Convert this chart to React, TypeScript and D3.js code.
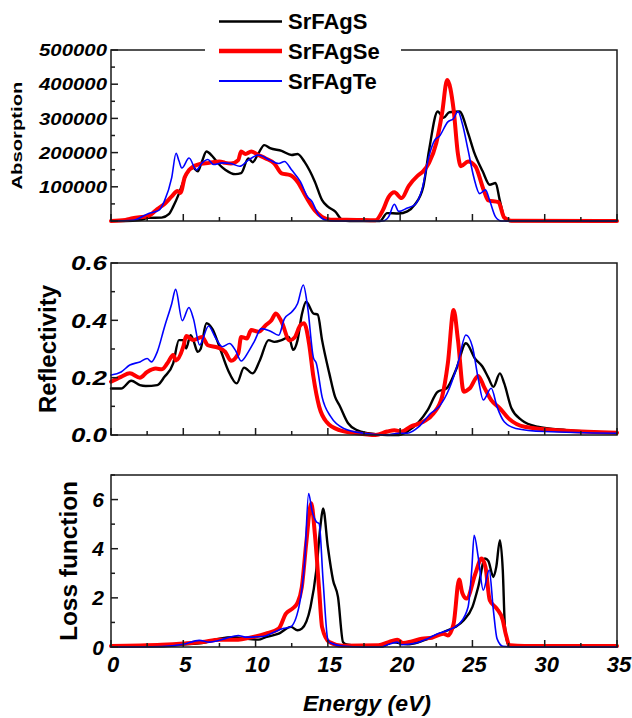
import React from "react";
import * as d3 from "d3";

type Pt = [number, number];

// ---------- data ----------
const seriesNames = ["SrFAgS", "SrFAgSe", "SrFAgTe"];
const energyTicks = [0, 5, 10, 15, 20, 25, 30, 35];
const absTicks = [100000, 200000, 300000, 400000, 500000];
const refTicks = [0, 0.2, 0.4, 0.6];
const lossTicks = [0, 2, 4, 6];

const absS: Pt[] = [
  [0, 0], [1, 0], [2, 3000], [2.6, 9000], [3.5, 10000], [4.0, 20000], [4.3, 42000], [4.7, 80000],
  [5.0, 115000], [5.4, 149000], [5.7, 155000], [6.0, 145000], [6.3, 175000], [6.6, 203000],
  [7.0, 190000], [7.4, 169000], [7.9, 150000], [8.6, 137000], [9.0, 140000], [9.5, 183000],
  [9.8, 172000], [10.2, 198000], [10.6, 222000], [11.0, 213000], [11.8, 205000], [12.5, 193000],
  [12.9, 196000], [13.4, 172000], [14.1, 115000], [14.6, 61000], [15.0, 42000], [15.5, 28000],
  [16.0, 3000], [16.5, 0], [18.6, 0], [19.1, 23000], [19.9, 22000], [20.5, 28000], [21.0, 47000],
  [21.6, 100000], [22.0, 207000], [22.6, 320000], [23.0, 302000], [23.4, 318000], [24.1, 320000],
  [24.7, 257000], [25.1, 203000], [25.7, 146000], [26.2, 106000], [26.6, 111000], [26.9, 59000],
  [27.3, 2000], [27.6, 0], [35, 0],
];
const absSe: Pt[] = [
  [0, 0], [1, 3000], [1.5, 8000], [2.6, 15000], [3.2, 35000], [3.7, 50000], [4.2, 72000],
  [4.6, 88000], [4.8, 82000], [5.1, 128000], [5.4, 149000], [6.0, 165000], [6.8, 170000],
  [7.5, 174000], [7.9, 170000], [8.3, 168000], [8.8, 178000], [9.0, 203000], [9.3, 196000],
  [9.7, 203000], [10.2, 193000], [10.7, 183000], [11.3, 168000], [11.8, 139000], [12.4, 134000],
  [12.9, 115000], [13.5, 70000], [14.1, 31000], [14.6, 12000], [15.2, 4000], [17, 3000],
  [18.3, 2000], [18.8, 31000], [19.2, 70000], [19.6, 84000], [20.1, 67000], [20.6, 103000],
  [21.2, 132000], [21.6, 146000], [22.0, 170000], [22.5, 228000], [22.9, 315000], [23.25, 412000],
  [23.7, 325000], [24.0, 195000], [24.2, 160000], [24.7, 174000], [25.2, 160000], [25.8, 88000],
  [26.1, 60000], [26.8, 55000], [27.2, 10000], [27.7, 1000], [35, 0],
];
const absTe: Pt[] = [
  [0, 0], [1.5, 2000], [2.6, 22000], [3.3, 31000], [3.7, 59000], [4.2, 127000], [4.5, 198000],
  [4.7, 176000], [4.9, 155000], [5.4, 184000], [5.9, 149000], [6.3, 170000], [6.7, 180000],
  [7.1, 165000], [7.7, 170000], [8.3, 168000], [8.9, 160000], [9.5, 178000], [10.2, 193000],
  [11.0, 178000], [11.6, 168000], [12.0, 174000], [12.5, 149000], [13.1, 115000], [13.6, 70000],
  [13.9, 57000], [14.3, 22000], [14.9, 2000], [15.5, 0], [18.8, 0], [19.2, 12000], [19.6, 49000],
  [19.9, 28000], [20.5, 38000], [21.0, 47000], [21.5, 90000], [22.0, 190000], [22.4, 237000],
  [22.7, 247000], [23.3, 290000], [23.7, 300000], [24.0, 320000], [24.3, 285000], [24.7, 207000],
  [25.1, 127000], [25.5, 80000], [25.9, 91000], [26.2, 59000], [26.6, 12000], [27.0, 0], [35, 0],
];

const refS: Pt[] = [
  [0, 0.162], [0.7, 0.162], [1.4, 0.189], [2.0, 0.174], [2.4, 0.171], [3.2, 0.174], [3.7, 0.203],
  [4.3, 0.25], [4.7, 0.331], [5.0, 0.331], [5.2, 0.302], [5.5, 0.348], [5.7, 0.33], [6.0, 0.29],
  [6.2, 0.3], [6.6, 0.39], [7.0, 0.371], [7.5, 0.308], [8.1, 0.226], [8.7, 0.18], [9.2, 0.235],
  [9.8, 0.215], [10.3, 0.261], [10.9, 0.331], [11.3, 0.325], [11.8, 0.331], [12.3, 0.342],
  [12.6, 0.297], [12.9, 0.33], [13.2, 0.42], [13.5, 0.465], [14.0, 0.424], [14.3, 0.42],
  [14.6, 0.331], [15.1, 0.215], [15.5, 0.133], [15.8, 0.104], [16.4, 0.041], [17.0, 0.017],
  [17.8, 0.006], [19.1, 0], [19.9, 0], [20.5, 0.012], [21.3, 0.046], [21.9, 0.087], [22.6, 0.151],
  [23.2, 0.162], [23.9, 0.232], [24.55, 0.32], [25.2, 0.265], [25.7, 0.238], [26.1, 0.2],
  [26.45, 0.168], [26.9, 0.215], [27.2, 0.18], [27.7, 0.093], [28.4, 0.052], [29.5, 0.029],
  [31.5, 0.017], [35, 0.008],
];
const refSe: Pt[] = [
  [0, 0.186], [0.7, 0.203], [1.3, 0.215], [2.0, 0.2], [2.5, 0.22], [3.1, 0.232], [3.5, 0.229],
  [3.9, 0.25], [4.3, 0.279], [4.5, 0.26], [5.0, 0.308], [5.2, 0.345], [5.7, 0.331], [6.3, 0.342],
  [6.7, 0.313], [7.4, 0.305], [7.9, 0.29], [8.3, 0.259], [8.8, 0.284], [9.0, 0.342], [9.4, 0.337],
  [9.7, 0.366], [10.2, 0.36], [10.7, 0.383], [11.1, 0.4], [11.4, 0.424], [11.8, 0.395],
  [12.35, 0.33], [12.7, 0.34], [13.1, 0.383], [13.35, 0.39], [13.7, 0.319], [14.0, 0.203],
  [14.4, 0.099], [14.9, 0.046], [15.8, 0.017], [17.0, 0.006], [18.3, 0], [19.1, 0.012],
  [19.6, 0.017], [20.1, 0.012], [20.7, 0.029], [21.6, 0.046], [22.3, 0.075], [22.9, 0.133],
  [23.3, 0.25], [23.7, 0.436], [24.0, 0.331], [24.4, 0.151], [24.8, 0.162], [25.4, 0.206],
  [25.8, 0.168], [26.3, 0.122], [26.9, 0.093], [27.5, 0.058], [28.6, 0.029], [31.5, 0.015],
  [35, 0.008],
];
const refTe: Pt[] = [
  [0, 0.209], [0.7, 0.22], [1.3, 0.244], [2.0, 0.255], [2.5, 0.267], [2.8, 0.255], [3.2, 0.29],
  [3.7, 0.377], [4.2, 0.458], [4.47, 0.508], [4.93, 0.399], [5.39, 0.445], [5.7, 0.406],
  [6.13, 0.314], [6.75, 0.38], [7.2, 0.342], [7.7, 0.308], [8.2, 0.319], [8.6, 0.296], [9.0, 0.258],
  [9.5, 0.29], [9.9, 0.325], [10.4, 0.371], [11.0, 0.363], [11.6, 0.348], [12.0, 0.406],
  [12.5, 0.429], [12.9, 0.458], [13.3, 0.523], [13.6, 0.447], [14.0, 0.27], [14.2, 0.25],
  [14.6, 0.133], [15.2, 0.064], [16.1, 0.023], [17.5, 0.006], [19.1, 0], [19.9, 0.006],
  [20.5, 0.006], [21.3, 0.029], [22.1, 0.075], [22.7, 0.099], [23.4, 0.162], [24.0, 0.25],
  [24.55, 0.349], [25.0, 0.308], [25.4, 0.197], [25.75, 0.122], [26.3, 0.163], [26.7, 0.099],
  [27.2, 0.046], [28.0, 0.023], [30.0, 0.012], [35, 0.006],
];

const lossS: Pt[] = [
  [0, 0.03], [3.5, 0.03], [5.0, 0.1], [6.3, 0.16], [7.5, 0.34], [8.5, 0.4], [9.3, 0.34],
  [10.2, 0.3], [10.7, 0.4], [11.6, 0.54], [12.45, 0.82], [12.9, 0.68], [13.2, 0.75], [13.8, 1.63],
  [14.2, 3.12], [14.5, 5.0], [14.67, 5.64], [15.0, 4.07], [15.36, 2.72], [15.7, 2.04], [16.05, 0.2],
  [16.3, 0.1], [17.4, 0.03], [18.8, 0.03], [19.4, 0.2], [19.9, 0.16], [20.5, 0.11], [21.3, 0.2],
  [22.2, 0.4], [23.0, 0.61], [23.8, 0.81], [24.4, 1.09], [25.0, 1.63], [25.4, 2.44], [25.87, 3.6],
  [26.1, 3.5], [26.45, 2.85], [26.65, 3.26], [26.9, 4.35], [27.1, 3.12], [27.25, 0.81],
  [27.5, 0.07], [28.6, 0.03], [35, 0.03],
];
const lossSe: Pt[] = [
  [0, 0.04], [3.5, 0.09], [5.0, 0.14], [6.3, 0.2], [7.5, 0.3], [8.8, 0.3], [9.6, 0.38],
  [10.7, 0.54], [11.6, 0.75], [12.1, 1.36], [12.55, 1.56], [12.9, 1.8], [13.2, 2.44], [13.5, 4.2],
  [13.85, 5.85], [14.1, 4.61], [14.4, 2.31], [14.6, 0.81], [15.1, 0.2], [16.0, 0.05], [18.5, 0.07],
  [19.2, 0.2], [19.8, 0.3], [20.2, 0.16], [20.8, 0.23], [21.5, 0.34], [22.2, 0.38], [23.0, 0.54],
  [23.3, 0.47], [23.7, 0.95], [24.08, 2.75], [24.3, 2.2], [24.6, 1.97], [25.2, 2.98],
  [25.63, 3.6], [25.9, 3.26], [26.2, 1.9], [26.67, 1.57], [27.1, 1.09], [27.3, 0.54],
  [27.6, 0.07], [28.6, 0.04], [35, 0.04],
];
const lossTe: Pt[] = [
  [0, 0], [3.5, 0.02], [5.0, 0.11], [6.1, 0.27], [6.8, 0.2], [7.9, 0.34], [8.8, 0.47], [9.3, 0.4],
  [10.5, 0.43], [11.3, 0.61], [11.9, 0.75], [12.4, 0.81], [13.0, 1.63], [13.4, 3.53],
  [13.67, 6.25], [13.9, 5.56], [14.2, 5.1], [14.4, 5.02], [14.67, 2.7], [15.0, 0.3], [15.2, 0.16],
  [16.0, 0.04], [17.5, 0], [18.7, 0], [19.2, 0.11], [19.8, 0.2], [20.1, 0.09], [21.1, 0.16],
  [21.9, 0.34], [22.6, 0.54], [23.3, 0.68], [24.1, 0.95], [24.7, 1.63], [24.95, 3.12],
  [25.12, 4.55], [25.4, 3.66], [25.75, 2.31], [26.16, 3.13], [26.45, 1.49], [26.7, 0.34],
  [27.1, 0.03], [28, 0], [35, 0],
];

// ---------- layout ----------
const W = 632;
const H = 718;
const L = 111;
const R = 617;
const FONT = "'Liberation Sans', Arial, Helvetica, sans-serif";
const colors = ["#000000", "#ff0000", "#0000ff"];
const widths = [2.4, 4, 1.6];

const x = d3.scaleLinear().domain([0, 35]).range([L, R]);

type Panel = {
  top: number;
  bottom: number;
  domain: [number, number];
  minorStep: number;
  majorStep: number;
  labels: number[];
  fmt: (v: number) => string;
  labelSize: number;
  labelLen?: number;
  labelX: number;
  series: Pt[][];
  title: string;
  titleX: number;
  titleSize: number;
  titleLen: number;
};

const panels: Panel[] = [
  {
    top: 50, bottom: 221, domain: [0, 500000], minorStep: 50000, majorStep: 100000,
    labels: absTicks, fmt: d3.format("d"), labelSize: 17, labelLen: 68, labelX: 107,
    series: [absS, absSe, absTe], title: "Absorption", titleX: 22, titleSize: 15, titleLen: 108,
  },
  {
    top: 263, bottom: 435, domain: [0, 0.6], minorStep: 0.1, majorStep: 0.2,
    labels: refTicks, fmt: d3.format(".1f"), labelSize: 20, labelLen: 36, labelX: 107,
    series: [refS, refSe, refTe], title: "Reflectivity", titleX: 55.5, titleSize: 24, titleLen: 128,
  },
  {
    top: 475, bottom: 647, domain: [0, 7], minorStep: 1, majorStep: 2,
    labels: lossTicks, fmt: d3.format("d"), labelSize: 21, labelX: 104,
    series: [lossS, lossSe, lossTe], title: "Loss function", titleX: 77, titleSize: 24, titleLen: 160,
  },
];

const xMinor = d3.range(0, 35.01, 2.5);

function PanelView({ p, idx }: { p: Panel; idx: number }) {
  const y = d3.scaleLinear().domain(p.domain).range([p.bottom, p.top]);
  const line = d3
    .line<Pt>()
    .x((d) => x(d[0]))
    .y((d) => y(d[1]))
    .curve(d3.curveMonotoneX);
  const yMinor = d3.range(p.domain[0], p.domain[1] + p.minorStep / 2, p.minorStep);
  const isMajor = (v: number, step: number) => Math.abs(v / step - Math.round(v / step)) < 1e-6;
  const midY = (p.top + p.bottom) / 2;
  return (
    <g>
      {p.series.map((s, i) => (
        <path key={i} d={line(s) || ""} fill="none" stroke={colors[i]} strokeWidth={widths[i]}
          strokeLinejoin="round" strokeLinecap="round" />
      ))}
      <rect x={L} y={p.top} width={R - L} height={p.bottom - p.top} fill="none" stroke="#1a1a1a" strokeWidth={1.5} />
      {xMinor.map((e, i) => {
        const len = isMajor(e, 5) ? 7 : 4;
        return <line key={"xt" + i} x1={x(e)} x2={x(e)} y1={p.bottom} y2={p.bottom - len} stroke="#1a1a1a" strokeWidth={1.5} />;
      })}
      {yMinor.map((v, i) => {
        const len = isMajor(v, p.majorStep) ? 7 : 4;
        return <line key={"yt" + i} x1={L} x2={L + len} y1={y(v)} y2={y(v)} stroke="#1a1a1a" strokeWidth={1.5} />;
      })}
      {p.labels.map((v, i) => (
        <text key={"yl" + i} x={p.labelX} y={y(v)} dy="0.36em" textAnchor="end" fontFamily={FONT}
          fontWeight="bold" fontStyle="italic" fontSize={p.labelSize}
          {...(p.labelLen ? { textLength: p.labelLen * (p.fmt(v).length / p.fmt(p.labels[p.labels.length - 1]).length), lengthAdjust: "spacingAndGlyphs" } : {})}>
          {p.fmt(v)}
        </text>
      ))}
      <text transform={`translate(${p.titleX},${midY}) rotate(-90)`} textAnchor="middle" fontFamily={FONT}
        fontWeight="bold" fontSize={p.titleSize} textLength={p.titleLen} lengthAdjust="spacingAndGlyphs">
        {p.title}
      </text>
      {idx === panels.length - 1 &&
        energyTicks.map((e, i) => (
          <text key={"xl" + i} x={x(e) + 2} y={672} textAnchor="middle" fontFamily={FONT}
            fontWeight="bold" fontStyle="italic" fontSize={22}>
            {e}
          </text>
        ))}
    </g>
  );
}

export default function App() {
  const legendRows = [21.5, 51, 81];
  return (
    <svg width={W} height={H} viewBox={`0 0 ${W} ${H}`} style={{ display: "block", position: "absolute", left: 0, top: 0, background: "#fff" }}>
      <rect x={0} y={0} width={W} height={H} fill="#fff" />
      {panels.map((p, i) => (
        <PanelView key={i} p={p} idx={i} />
      ))}
      <rect x={205} y={2} width={196} height={92} fill="#fff" />
      {seriesNames.map((n, i) => (
        <g key={n}>
          <line x1={219} x2={282} y1={legendRows[i]} y2={legendRows[i]} stroke={colors[i]} strokeWidth={widths[i] + 0.3} />
          <text x={288} y={legendRows[i] + 7.5} fontFamily={FONT} fontWeight="bold" fontSize={22}>
            {n}
          </text>
        </g>
      ))}
      <text x={(L + R) / 2 + 3} y={711} textAnchor="middle" fontFamily={FONT} fontWeight="bold" fontStyle="italic"
        fontSize={22} textLength={128} lengthAdjust="spacingAndGlyphs">
        Energy (eV)
      </text>
    </svg>
  );
}
